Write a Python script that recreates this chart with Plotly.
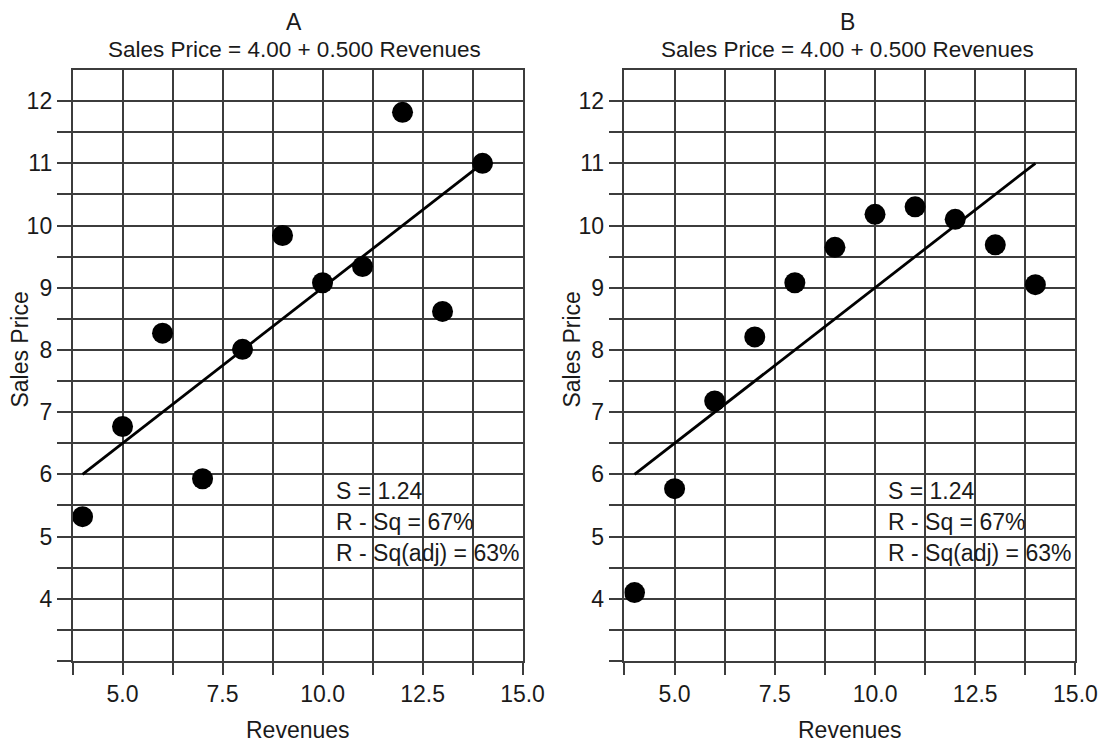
import plotly.graph_objects as go

# ---- data ----
revenues = [4, 5, 6, 7, 8, 9, 10, 11, 12, 13, 14]
price_a = [5.32, 6.77, 8.27, 5.93, 8.01, 9.84, 9.08, 9.34, 11.82, 8.62, 11.0]
price_b = [4.10, 5.77, 7.18, 8.21, 9.08, 9.65, 10.18, 10.30, 10.10, 9.69, 9.05]
fit_x = [4, 14]
intercept, slope = 4.00, 0.500
fit_y = [intercept + slope * v for v in fit_x]

panel_names = ["A", "B"]
equation = "Sales Price = 4.00 + 0.500 Revenues"
stats_lines = ["S = 1.24", "R - Sq = 67%", "R - Sq(adj) = 63%"]
stats_y = [5.74, 5.24, 4.74]
stats_x = 10.3

x_tickvals = [3.75, 5.0, 6.25, 7.5, 8.75, 10.0, 11.25, 12.5, 13.75, 15.0]
x_ticktext = ["", "5.0", "", "7.5", "", "10.0", "", "12.5", "", "15.0"]
y_tickvals = [3.0, 3.5, 4, 4.5, 5, 5.5, 6, 6.5, 7, 7.5, 8, 8.5, 9, 9.5, 10, 10.5, 11, 11.5, 12]
y_ticktext = ["" if v != int(v) or v == 3 else str(int(v)) for v in y_tickvals]

FONT = "Liberation Sans, Arial, Helvetica, sans-serif"
TXT = "#1a1a1a"
GRID = "#3c3c3c"

W, H = 1120, 742
dom_x = [[74 / W, 533 / W], [637 / W, 1097 / W]]
dom_y = [1 - 661 / H, 1 - 70 / H]
title_cx = [300 / W, 864 / W]
ytitle_x = [20 / W, 583 / W]

fig = go.Figure()
for i, ys in enumerate([price_a, price_b]):
    xa = "x" if i == 0 else "x2"
    ya = "y" if i == 0 else "y2"
    fig.add_trace(go.Scatter(x=fit_x, y=fit_y, mode="lines",
                             line=dict(color="black", width=2.8),
                             xaxis=xa, yaxis=ya, showlegend=False, hoverinfo="skip"))
    fig.add_trace(go.Scatter(x=revenues, y=ys, mode="markers",
                             marker=dict(color="black", size=21),
                             xaxis=xa, yaxis=ya, showlegend=False))

axis_common = dict(showgrid=True, gridcolor=GRID, gridwidth=1.5,
                   showline=True, linecolor=GRID, linewidth=1.5, mirror=True,
                   ticks="outside", tickcolor=GRID, tickwidth=1.5,
                   zeroline=False, tickfont=dict(family=FONT, size=23, color=TXT),
                   fixedrange=True)

layout = dict(width=W, height=H, margin=dict(l=0, r=0, t=0, b=0),
              paper_bgcolor="white", plot_bgcolor="white", showlegend=False)
for i in range(2):
    sx = "" if i == 0 else "2"
    layout["xaxis" + sx] = dict(axis_common, domain=dom_x[i], range=[3.75, 15],
                                tickmode="array", tickvals=x_tickvals, ticktext=x_ticktext,
                                ticklen=12, anchor="y" + sx)
    layout["yaxis" + sx] = dict(axis_common, domain=dom_y, range=[3, 12.5],
                                tickmode="array", tickvals=y_tickvals, ticktext=y_ticktext,
                                ticklen=14, anchor="x" + sx)
fig.update_layout(**layout)

ann = []
for i in range(2):
    cx = (dom_x[i][0] + dom_x[i][1]) / 2
    ann.append(dict(text=panel_names[i], x=title_cx[i], y=1 - 22 / H, xref="paper", yref="paper",
                    xanchor="center", yanchor="middle", showarrow=False,
                    font=dict(family=FONT, size=23, color=TXT)))
    ann.append(dict(text=equation, x=title_cx[i], y=1 - 50 / H, xref="paper", yref="paper",
                    xanchor="center", yanchor="middle", showarrow=False,
                    font=dict(family=FONT, size=22.5, color=TXT)))
    ann.append(dict(text="Revenues", x=cx, y=1 - 730 / H, xref="paper", yref="paper",
                    xanchor="center", yanchor="middle", showarrow=False,
                    font=dict(family=FONT, size=23, color=TXT)))
    ann.append(dict(text="Sales Price", x=ytitle_x[i], y=1 - 350 / H, xref="paper", yref="paper",
                    xanchor="center", yanchor="middle", textangle=-90, showarrow=False,
                    font=dict(family=FONT, size=23, color=TXT)))
    sx = "" if i == 0 else "2"
    for line, yy in zip(stats_lines, stats_y):
        ann.append(dict(text=line, x=stats_x, y=yy, xref="x" + sx, yref="y" + sx,
                        xanchor="left", yanchor="middle", showarrow=False, borderpad=0,
                        font=dict(family=FONT, size=23, color=TXT)))
fig.update_layout(annotations=ann)

fig.write_html("out.html")
